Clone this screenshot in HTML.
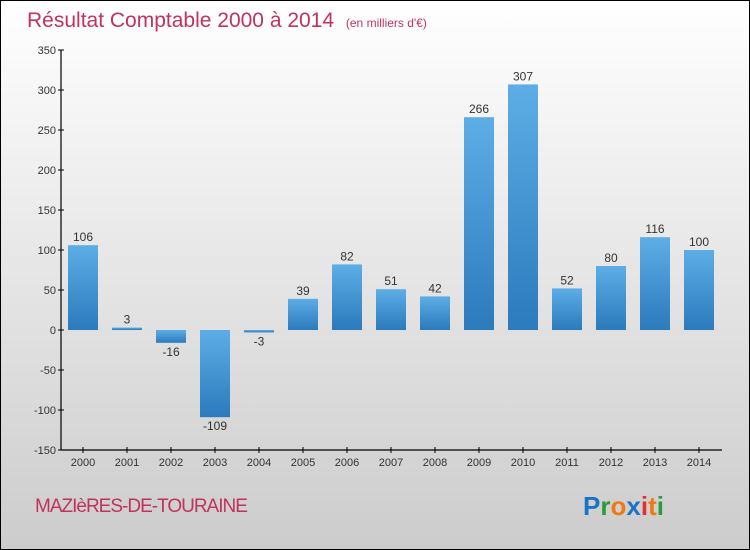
<!DOCTYPE html>
<html><head><meta charset="utf-8"><style>
body{margin:0;width:750px;height:550px;overflow:hidden}
svg{display:block;font-family:"Liberation Sans",sans-serif}
</style></head><body>
<svg id="c" width="750" height="550">
<defs>
<linearGradient id="bg" x1="0" y1="0" x2="0" y2="1"><stop offset="0" stop-color="#ffffff"/><stop offset="1" stop-color="#cccccc"/></linearGradient>
<linearGradient id="bar" x1="0" y1="0" x2="0" y2="1"><stop offset="0" stop-color="#5dade6"/><stop offset="1" stop-color="#2b7bbd"/></linearGradient>
</defs>
<rect x="0.5" y="0.5" width="749" height="549" fill="url(#bg)" stroke="#000"/>
<text x="27" y="27" font-size="21" fill="#c0335f">Résultat Comptable 2000 à 2014 <tspan font-size="12" dx="6">(en milliers d'€)</tspan></text>
<text x="35" y="512" font-size="19" fill="#c0335f" letter-spacing="-1">MAZIèRES-DE-TOURAINE</text>
<text x="583" y="515" font-size="26" font-weight="bold"><tspan fill="#1a73c8">P</tspan><tspan fill="#2e9b3a">r</tspan><tspan fill="#f07a12">o</tspan><tspan fill="#1a73c8">x</tspan><tspan fill="#e03030">i</tspan><tspan fill="#f07a12">t</tspan><tspan fill="#2e9b3a">i</tspan></text>
<g id="plot"></g>
</svg>
<script>
const categories=["2000","2001","2002","2003","2004","2005","2006","2007","2008","2009","2010","2011","2012","2013","2014"];
const values=[106,3,-16,-109,-3,39,82,51,42,266,307,52,80,116,100];
const yTicks=[350,300,250,200,150,100,50,0,-50,-100,-150];
const NS="http://www.w3.org/2000/svg";
const g=document.getElementById('plot');
const y=v=>330-v*0.8;
const x=i=>83+i*44;
function el(t,a){const e=document.createElementNS(NS,t);for(const k in a)e.setAttribute(k,a[k]);g.appendChild(e);return e;}
let ax=el('line',{x1:61,y1:50,x2:61,y2:450,stroke:'#000','stroke-width':1.2});


let bx=el('line',{x1:61,y1:450,x2:722,y2:450,stroke:'#000','stroke-width':1.2});


yTicks.forEach(v=>{
 el('line',{x1:58,y1:y(v),x2:64,y2:y(v),stroke:'#000'});
 const t=el('text',{x:56,y:y(v)+4,'font-size':11,'text-anchor':'end',fill:'#333'});
 t.textContent=v<0?'-'+Math.abs(v):v;
 
 
});
categories.forEach((c,i)=>{
 el('line',{x1:x(i),y1:447,x2:x(i),y2:453,stroke:'#000'});
 const t=el('text',{x:x(i),y:466,'font-size':11,'text-anchor':'middle',fill:'#333'});
 t.textContent=c;
 
 
 const v=values[i];
 const r=el('rect',{x:x(i)-15,y:Math.min(y(v),y(0)),width:30,height:Math.abs(y(v)-y(0)),fill:'url(#bar)'});
 
 
 const l=el('text',{x:x(i),y:v>=0?y(v)-4:y(v)+13,'font-size':12,'text-anchor':'middle',fill:'#333'});
 l.textContent=v<0?'-'+Math.abs(v):v;
 
 
});
</script>
</body></html>
